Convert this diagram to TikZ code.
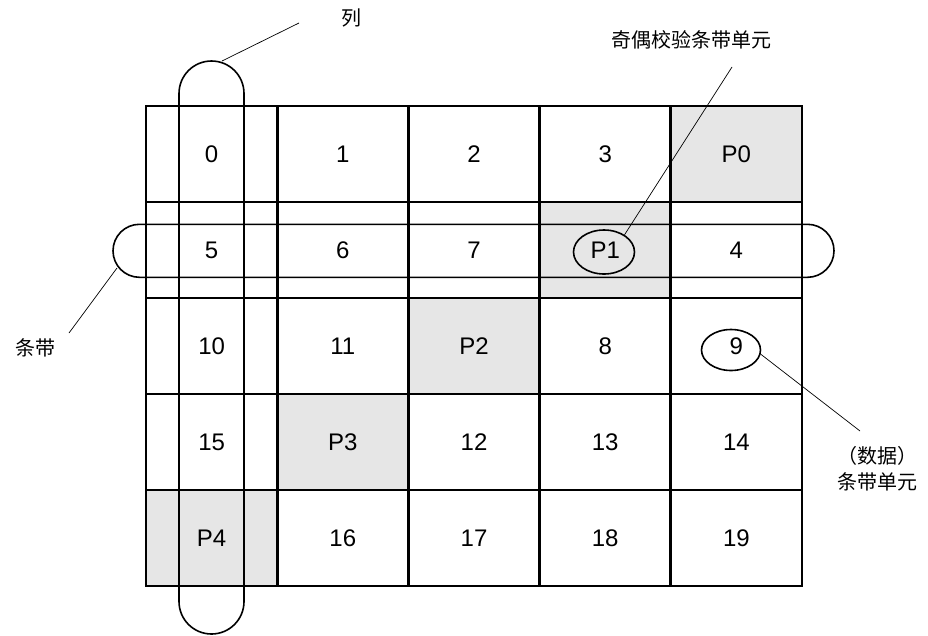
\documentclass[tikz,border=0pt]{standalone}
\usepackage{fontspec}
\setmainfont{Liberation Sans}
\newfontfamily\cjk{Noto Sans CJK SC}
\usetikzlibrary{shapes.geometric}
\definecolor{parity}{RGB}{230,230,230}
\tikzset{
	cell/.style = {draw, line width = 2.8pt, minimum width = 131.2pt, minimum height = 96pt, inner sep = 0pt, font = \fontsize{24}{28}\selectfont},
	band/.style = {draw, line width = 1.6pt, inner sep = 0pt},
	oval/.style = {draw, ellipse, line width = 1.6pt, inner sep = 0pt},
	lead/.style = {line width = .7pt},
	tag/.style = {font = \cjk\fontsize{20}{25}\selectfont}
}
\begin{document}
\begin{tikzpicture}[x = 1pt, y = -1pt]
		\useasboundingbox (0, 0) rectangle (928, 635);
		% the 5 x 5 array, parity units on the anti-diagonal
		\foreach \r/\row in {0/{0,1,2,3,P0}, 1/{5,6,7,P1,4}, 2/{10,11,P2,8,9}, 3/{15,P3,12,13,14}, 4/{P4,16,17,18,19}}{
			\foreach \t [count = \cc from 0] in \row {
				\ifnum\numexpr\cc+\r\relax=4 \def\shade{parity}\else\def\shade{white}\fi
				\node[cell, fill = \shade] (c\r\cc) at ({146 + 131.2 * (\cc + .5)}, {106 + 96 * (\r + .5)}) {\t};}}
		% column and stripe outlines
		\node[band, rounded corners = 32.5pt, minimum width = 65pt, minimum height = 573pt] (column) at (211.5, 347.5) {};
		\node[band, rounded corners = 26.5pt, minimum width = 721pt, minimum height = 53pt] (stripe) at (473.5, 250.8) {};
		\node[oval, minimum width = 61pt, minimum height = 44pt] (p1oval) at (604, 252) {};
		\node[oval, minimum width = 59pt, minimum height = 41pt] (nineoval) at (731, 350) {};
		% labels
		\node[tag] (lie) at (351, 18) {列};
		\node[tag] (parlbl) at (691, 40) {奇偶校验条带单元};
		\node[tag] (stripelbl) at (35, 348) {条带};
		\node[tag, align = center, inner sep = 0pt] (unitlbl) at (877, 469) {（数据）\\[1pt]条带单元};
		\coordinate (lieend) at (299, 23);
		\coordinate (lietip) at (222, 61);
		\coordinate (parend) at (732, 67);
		\coordinate (stripeend) at (69, 333);
		\coordinate (stripetip) at (117, 268);
		\coordinate (unitend) at (860, 431);
		\draw[lead] (lieend) -- (lietip);
		\draw[lead] (parend) -- (p1oval.40);
		\draw[lead] (stripeend) -- (stripetip);
		\draw[lead] (nineoval.-8) -- (unitend);
		\end{tikzpicture}
\end{document}
